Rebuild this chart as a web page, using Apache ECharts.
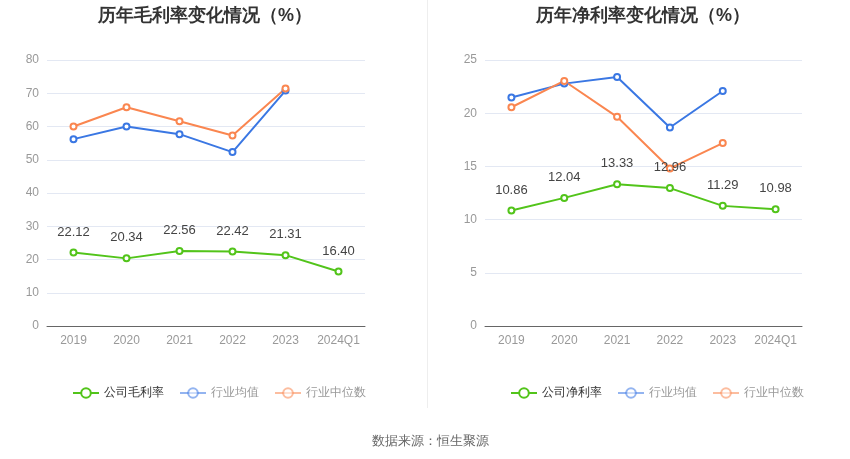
<!DOCTYPE html>
<html>
<head>
<meta charset="utf-8">
<style>
  html, body { margin: 0; padding: 0; background: #fff; }
  #chart { width: 850px; height: 459px; }
</style>
<script src="https://cdn.jsdelivr.net/npm/echarts@6/dist/echarts.min.js"></script>
</head>
<body>
<div id="chart"></div>
<script>
// 横轴类目
var years = ['2019', '2020', '2021', '2022', '2023', '2024Q1'];

// 毛利率
var grossCompany = [22.12, 20.34, 22.56, 22.42, 21.31, 16.40];
var grossIndustryAvg = [56.2, 60.0, 57.7, 52.3, 70.8, null];
var grossIndustryMedian = [60.0, 65.8, 61.6, 57.3, 71.4, null];

// 净利率
var netCompany = [10.86, 12.04, 13.33, 12.96, 11.29, 10.98];
var netIndustryAvg = [21.47, 22.78, 23.41, 18.66, 22.09, null];
var netIndustryMedian = [20.56, 23.03, 19.66, 14.81, 17.19, null];

var GREEN = '#52c41a';
var BLUE = '#3a77e3';
var ORANGE = '#fa8650';

var chart = echarts.init(document.getElementById('chart'));

function lineSeries(name, data, color, idx, showLabel) {
  return {
    name: name,
    type: 'line',
    xAxisIndex: idx,
    yAxisIndex: idx,
    data: data,
    symbol: 'emptyCircle',
    symbolSize: 6,
    showAllSymbol: true,
    connectNulls: false,
    lineStyle: { width: 2, color: color },
    itemStyle: { color: color, borderWidth: 2 },
    label: {
      show: showLabel,
      position: 'top',
      distance: 10,
      color: '#444',
      fontSize: 13,
      formatter: function (p) { return p.value.toFixed(2); }
    },
    z: showLabel ? 3 : 2
  };
}

function legendItems(first) {
  return [
    { name: first, textStyle: { color: '#333' } },
    { name: '行业均值', itemStyle: { opacity: 0.55 }, lineStyle: { opacity: 0.55 }, textStyle: { color: '#999' } },
    { name: '行业中位数', itemStyle: { opacity: 0.55 }, lineStyle: { opacity: 0.55 }, textStyle: { color: '#999' } }
  ];
}

var axisLabelStyle = { color: '#999', fontSize: 12 };
var splitStyle = { lineStyle: { color: '#e3e8f3' } };

var option = {
  animation: false,
  color: [GREEN, BLUE, ORANGE],
  title: [
    { text: '历年毛利率变化情况（%）', left: 200, top: 2, textAlign: 'center',
      textStyle: { fontSize: 18, fontWeight: 'bold', color: '#333' } },
    { text: '历年净利率变化情况（%）', left: 638, top: 2, textAlign: 'center',
      textStyle: { fontSize: 18, fontWeight: 'bold', color: '#333' } },
    { text: '数据来源：恒生聚源', left: 425, top: 430, textAlign: 'center',
      textStyle: { fontSize: 13, fontWeight: 'normal', color: '#666' } }
  ],
  legend: [
    { left: 67, top: 382, itemWidth: 26, itemHeight: 12, itemGap: 15,
      textStyle: { fontSize: 12 }, data: legendItems('公司毛利率') },
    { left: 505, top: 382, itemWidth: 26, itemHeight: 12, itemGap: 15,
      textStyle: { fontSize: 12 }, data: legendItems('公司净利率') }
  ],
  grid: [
    { left: 47, top: 60, width: 318, height: 266 },
    { left: 485, top: 60, width: 317, height: 266 }
  ],
  xAxis: [0, 1].map(function (i) {
    return {
      type: 'category', gridIndex: i, data: years, boundaryGap: true,
      axisLine: { lineStyle: { color: '#666' } },
      axisTick: { alignWithLabel: true, interval: 0, lineStyle: { color: '#666' } },
      axisLabel: { color: '#999', fontSize: 12, margin: 9, interval: 0 }
    };
  }),
  yAxis: [
    { type: 'value', gridIndex: 0, min: 0, max: 80, interval: 10,
      axisLabel: axisLabelStyle, splitLine: splitStyle,
      axisLine: { show: false }, axisTick: { show: false } },
    { type: 'value', gridIndex: 1, min: 0, max: 25, interval: 5,
      axisLabel: axisLabelStyle, splitLine: splitStyle,
      axisLine: { show: false }, axisTick: { show: false } }
  ],
  graphic: [
    { type: 'line', shape: { x1: 427.5, y1: 0, x2: 427.5, y2: 408 },
      style: { stroke: '#eeeeee', lineWidth: 1 } }
  ],
  series: [
    lineSeries('行业均值', grossIndustryAvg, BLUE, 0, false),
    lineSeries('行业中位数', grossIndustryMedian, ORANGE, 0, false),
    lineSeries('公司毛利率', grossCompany, GREEN, 0, true),
    lineSeries('行业均值', netIndustryAvg, BLUE, 1, false),
    lineSeries('行业中位数', netIndustryMedian, ORANGE, 1, false),
    lineSeries('公司净利率', netCompany, GREEN, 1, true)
  ]
};

chart.setOption(option);
</script>
</body>
</html>
